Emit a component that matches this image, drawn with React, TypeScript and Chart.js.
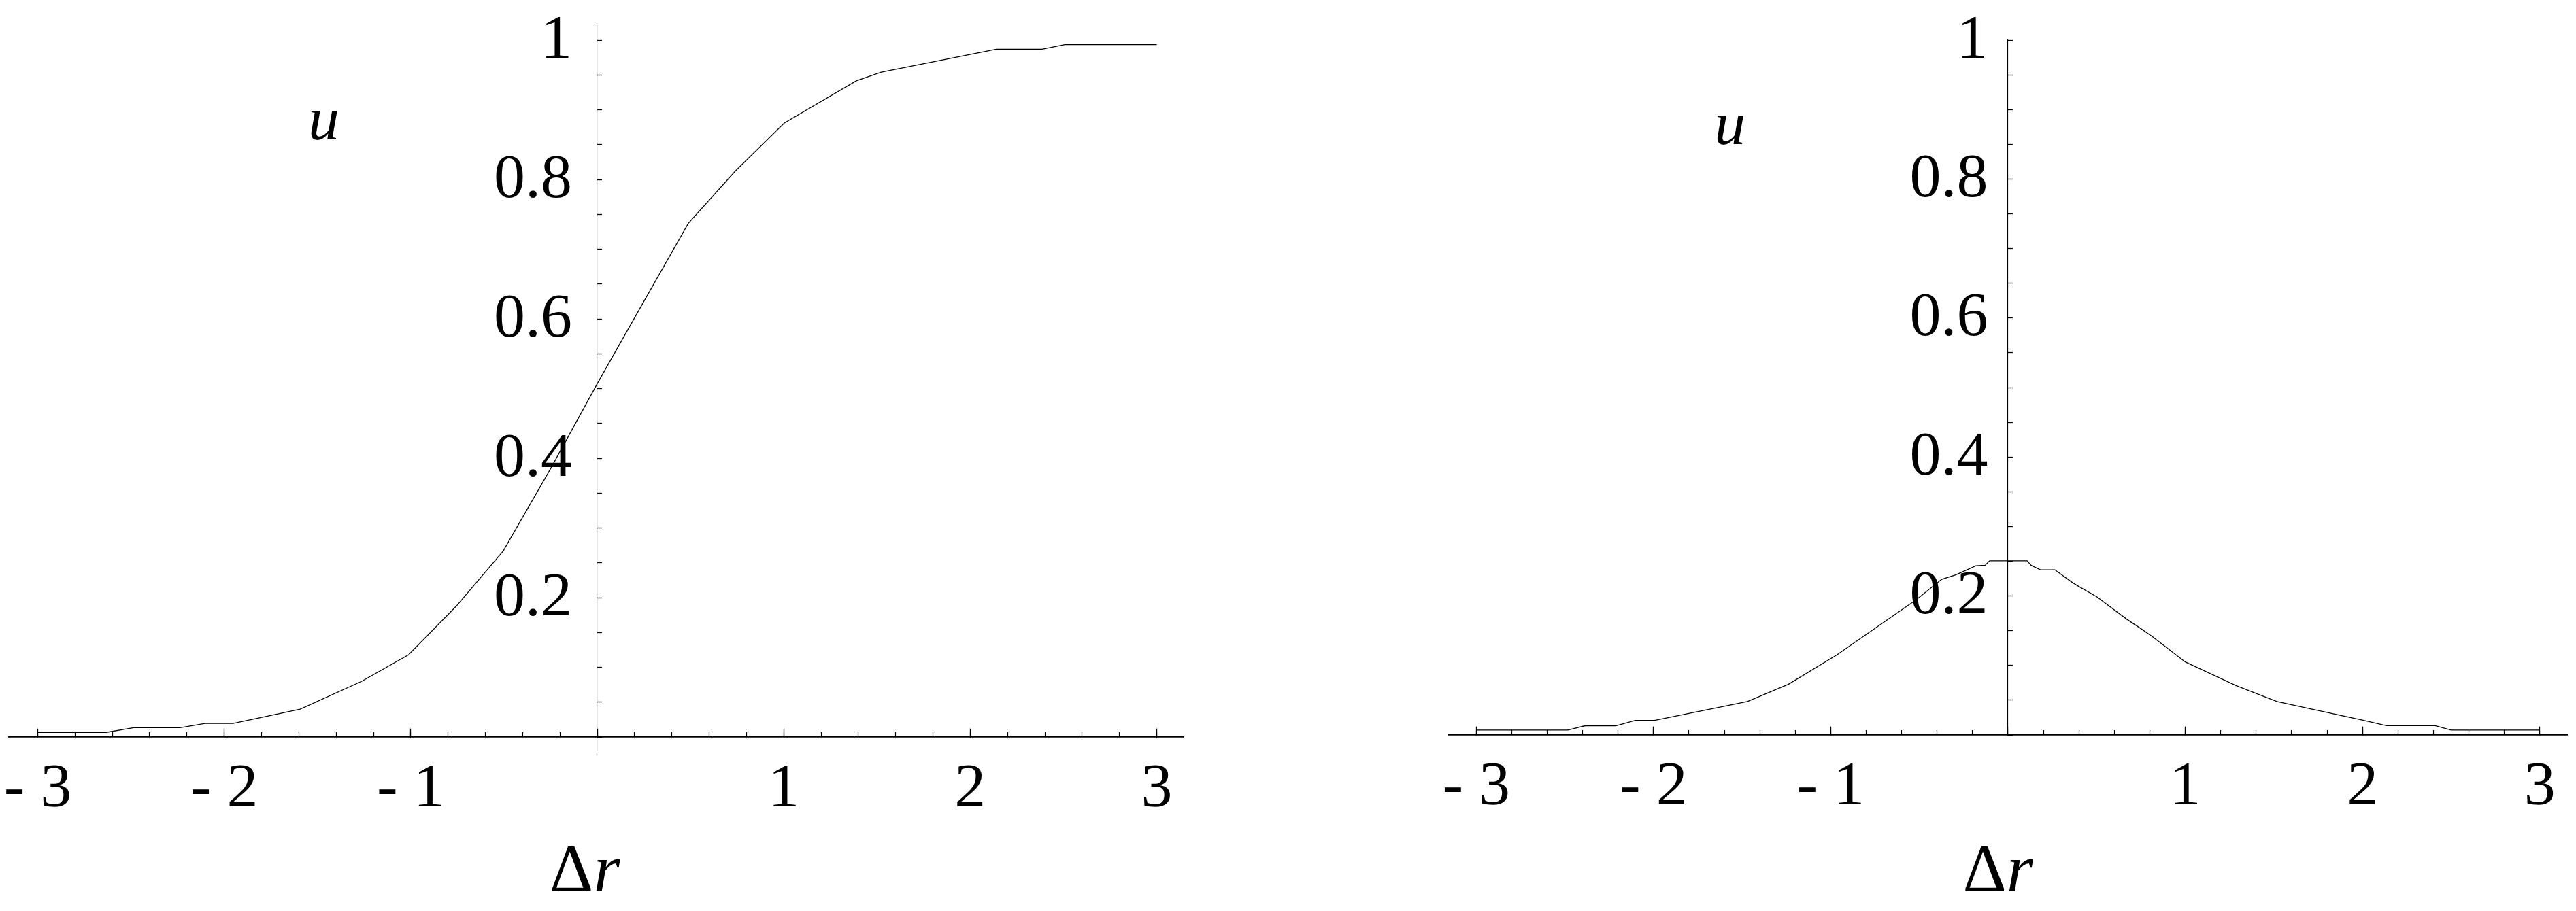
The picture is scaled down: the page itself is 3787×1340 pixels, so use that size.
import React, { useEffect, useRef } from 'react';
import { Chart, registerables } from 'chart.js';

Chart.register(...registerables);

// ---- data ----
// Left panel: u as a function of Δr
const leftDeltaR = [-3, -2.632, -2.486, -2.237, -2.103, -1.953, -1.593, -1.262, -1.011, -0.755, -0.504, -0.25, 0, 0.25, 0.488, 0.74, 1.003, 1.389, 1.523, 2.14, 2.385, 2.507, 3];
const leftU = [0.0066, 0.0066, 0.0134, 0.0134, 0.0195, 0.0195, 0.04, 0.08, 0.118, 0.188, 0.267, 0.385, 0.507, 0.625, 0.737, 0.812, 0.881, 0.9416, 0.954, 0.987, 0.987, 0.9935, 0.9935];

// Right panel: u as a function of Δr (peaked curve)
const rightDeltaR = [-3, -2.483, -2.387, -2.213, -2.103, -1.994, -1.47, -1.238, -0.967, -0.516, -0.374, -0.293, -0.181, -0.129, -0.104, 0.108, 0.131, 0.183, 0.264, 0.361, 0.391, 0.502, 0.673, 0.74, 0.814, 1.0, 1.286, 1.517, 2.007, 2.136, 2.41, 2.5, 3];
const rightU = [0.0069, 0.0069, 0.0132, 0.0132, 0.021, 0.021, 0.048, 0.073, 0.115, 0.195, 0.224, 0.2305, 0.2436, 0.2442, 0.2507, 0.2507, 0.244, 0.2377, 0.2377, 0.2198, 0.2149, 0.1986, 0.166, 0.1547, 0.1416, 0.105, 0.071, 0.048, 0.021, 0.0134, 0.0134, 0.0069, 0.0069];

// tick labels
const xTickValues = [-3, -2, -1, 1, 2, 3];
const xTickLabels = ['- 3', '- 2', '- 1', '1', '2', '3'];
const yTickValues = [0.2, 0.4, 0.6, 0.8, 1];
const yTickLabels = ['0.2', '0.4', '0.6', '0.8', '1'];

// axis titles
const xTitleMain = 'Δ';
const xTitleItalic = 'r';
const yTitle = 'u';

// ---- styling / layout ----
const FONT = '"Liberation Serif", serif';

const fmtX = (v: number) => {
  const i = xTickValues.findIndex((t) => Math.abs(t - v) < 1e-6);
  return i >= 0 ? xTickLabels[i] : '';
};
const fmtY = (v: number) => {
  const i = yTickValues.findIndex((t) => Math.abs(t - v) < 1e-6);
  return i >= 0 ? yTickLabels[i] : '';
};

const zeroFitX = (s: any) => {
  s.height = 0;
  s.paddingLeft = 0; s.paddingRight = 0; s.paddingTop = 0; s.paddingBottom = 0;
};
const zeroFitY = (s: any) => {
  s.width = 0;
  s.paddingLeft = 0; s.paddingRight = 0; s.paddingTop = 0; s.paddingBottom = 0;
};

type PanelCfg = {
  left: number;
  width: number;
  padding: { left: number; top: number; right: number; bottom: number };
  xMin: number; xMax: number; yMin: number; yMax: number;
  yPad: number;
  uX: number; uY: number;
  drX: number; drDrop: number;
};

const leftCfg: PanelCfg = {
  left: 0, width: 1890,
  padding: { left: 13, top: 38, right: 150, bottom: 236 },
  xMin: -3.155, xMax: 3.144, yMin: -0.0195, yMax: 1.0205,
  yPad: 44,
  uX: -1.466, uY: 0.858,
  drX: -0.255, drDrop: 227,
};

const rightCfg: PanelCfg = {
  left: 1890, width: 1897,
  padding: { left: 239, top: 59, right: 13, bottom: 259 },
  xMin: -3.1585, xMax: 3.1547, yMin: 0, yMax: 1,
  yPad: 36.5,
  uX: -1.569, uY: 0.85,
  drX: -0.255, drDrop: 230,
};

// Put the y scale's box edge at Δr = 0 so its border, ticks and labels sit on the crossing axis.
const crossAxisPlugin = {
  id: 'crossAxis',
  afterLayout(chart: any) {
    const ys = chart.scales.y;
    const xs = chart.scales.x;
    const px = xs.getPixelForValue(0);
    ys.left = 0;
    ys.right = px;
    ys.width = px;
  },
};

const titlesPlugin = (cfg: PanelCfg) => ({
  id: 'axisTitles',
  afterDraw(chart: any) {
    const { ctx, scales } = chart;
    const x = scales.x;
    const y = scales.y;
    ctx.save();
    ctx.fillStyle = '#000';
    ctx.textBaseline = 'alphabetic';
    ctx.textAlign = 'center';
    ctx.font = `italic 92px ${FONT}`;
    ctx.fillText(yTitle, x.getPixelForValue(cfg.uX), y.getPixelForValue(cfg.uY));

    const base = y.getPixelForValue(0) + cfg.drDrop;
    const sx = x.getPixelForValue(cfg.drX);
    ctx.textAlign = 'left';
    ctx.font = `100px ${FONT}`;
    const wD = ctx.measureText(xTitleMain).width;
    ctx.fillText(xTitleMain, sx, base);
    ctx.font = `italic 100px ${FONT}`;
    ctx.fillText(xTitleItalic, sx + wD, base);
    ctx.restore();
  },
});

function buildConfig(xs: number[], us: number[], cfg: PanelCfg): any {
  return {
    type: 'line',
    data: {
      datasets: [
        {
          data: xs.map((x, i) => ({ x, y: us[i] })),
          borderColor: '#000',
          borderWidth: 1.3,
          pointRadius: 0,
          tension: 0,
          fill: false,
          xAxisID: 'x',
          yAxisID: 'y',
        },
      ],
    },
    options: {
      responsive: false,
      animation: false,
      devicePixelRatio: 1,
      events: [],
      layout: { padding: cfg.padding, autoPadding: false },
      plugins: { legend: { display: false }, tooltip: { enabled: false }, title: { display: false } },
      scales: {
        x: {
          type: 'linear', axis: 'x', position: { y: 0 },
          min: cfg.xMin, max: cfg.xMax,
          afterFit: zeroFitX,
          border: { display: true, color: '#000', width: 1.7 },
          grid: { display: true, drawOnChartArea: false, drawTicks: true, tickLength: -13, tickWidth: 1.3, tickColor: '#000' },
          ticks: {
            stepSize: 1, autoSkip: false, includeBounds: false, maxRotation: 0, minRotation: 0,
            padding: 36, color: '#000', font: { family: FONT, size: 92 }, callback: fmtX,
          },
        },
        xm: {
          type: 'linear', axis: 'x', position: { y: 0 },
          min: cfg.xMin, max: cfg.xMax,
          afterFit: zeroFitX,
          border: { display: false },
          grid: { display: true, drawOnChartArea: false, drawTicks: true, tickLength: -7, tickWidth: 1.2, tickColor: '#000' },
          ticks: { display: false, stepSize: 0.2, autoSkip: false, includeBounds: false },
        },
        y: {
          type: 'linear', axis: 'y', position: 'left',
          min: cfg.yMin, max: cfg.yMax,
          afterFit: zeroFitY,
          border: { display: true, color: '#000', width: 1.1 },
          grid: { display: true, drawOnChartArea: false, drawTicks: true, tickLength: -7, tickWidth: 1.3, tickColor: '#000' },
          ticks: {
            stepSize: 0.05, autoSkip: false, includeBounds: false, labelOffset: 1.5,
            padding: cfg.yPad, color: '#000', font: { family: FONT, size: 92 }, callback: fmtY,
          },
        },
      },
    },
    plugins: [crossAxisPlugin, titlesPlugin(cfg)],
  };
}

function Panel({ xs, us, cfg }: { xs: number[]; us: number[]; cfg: PanelCfg }) {
  const ref = useRef<HTMLCanvasElement>(null);
  useEffect(() => {
    if (!ref.current) return;
    const chart = new Chart(ref.current, buildConfig(xs, us, cfg));
    return () => chart.destroy();
  }, []);
  return (
    <canvas
      ref={ref}
      width={cfg.width}
      height={1340}
      style={{ position: 'absolute', left: cfg.left, top: 0, width: cfg.width, height: 1340 }}
    />
  );
}

export default function App() {
  return (
    <div style={{ position: 'absolute', left: 0, top: 0, width: 3787, height: 1340, background: '#fff', overflow: 'hidden' }}>
      <Panel xs={leftDeltaR} us={leftU} cfg={leftCfg} />
      <Panel xs={rightDeltaR} us={rightU} cfg={rightCfg} />
    </div>
  );
}
